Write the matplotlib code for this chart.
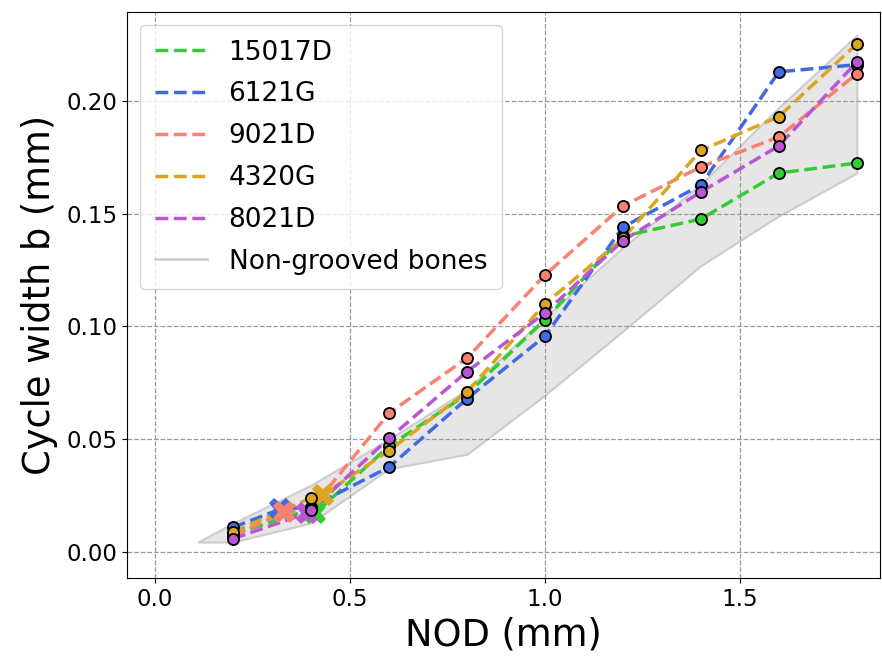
import numpy as np
import matplotlib
matplotlib.use("Agg")
import matplotlib.pyplot as plt

# NOD positions of the circle markers
nod = [0.2, 0.4, 0.6, 0.8, 1.0, 1.2, 1.4, 1.6, 1.8]

labels = ["15017D", "6121G", "9021D", "4320G", "8021D"]
colors = ["limegreen", "royalblue", "salmon", "goldenrod", "mediumorchid"]

b_15017D = [0.008, 0.019, 0.047, 0.070, 0.103, 0.140, 0.1476, 0.168, 0.1724]
b_6121G = [0.011, 0.020, 0.0377, 0.068, 0.0957, 0.144, 0.1627, 0.2128, 0.216]
b_9021D = [0.007, 0.019, 0.0616, 0.086, 0.1228, 0.1534, 0.1707, 0.184, 0.212]
b_4320G = [0.009, 0.024, 0.045, 0.071, 0.110, 0.139, 0.178, 0.193, 0.2252]
b_8021D = [0.006, 0.0186, 0.0505, 0.080, 0.106, 0.138, 0.1596, 0.180, 0.2172]
series = [b_15017D, b_6121G, b_9021D, b_4320G, b_8021D]

# extra point of each specimen (X marker)
x_special = [0.41, 0.32, 0.33, 0.43, 0.39]
y_special = [0.0172, 0.019, 0.0177, 0.0253, 0.0173]

# non-grooved bones band
band_x = [0.11, 0.2, 0.4, 0.6, 0.8, 1.0, 1.2, 1.4, 1.6, 1.8]
band_lo = [0.0045, 0.0045, 0.013, 0.037, 0.0434, 0.0696, 0.098, 0.127, 0.149, 0.168]
band_hi = [0.0045, 0.0128, 0.0297, 0.050, 0.072, 0.104, 0.135, 0.163, 0.197, 0.229]

fig, ax = plt.subplots(figsize=(8.82, 6.57), dpi=100)

ax.fill_between(band_x, band_lo, band_hi, facecolor="#e6e6e6", edgecolor="#cccccc",
                linewidth=1.5, zorder=1)
h_band, = ax.plot([], [], color="#cccccc", linewidth=1.8, label="Non-grooved bones")

handles = []
for lab, col, yv, xs, ys in zip(labels, colors, series, x_special, y_special):
    xx = np.array(nod + [xs])
    yy = np.array(yv + [ys])
    order = np.argsort(xx)
    h, = ax.plot(xx[order], yy[order], linestyle="--", color=col, linewidth=2.5,
                 label=lab, zorder=3)
    handles.append(h)
    ax.plot([xs], [ys], linestyle="none", marker="X", markersize=16,
            color=col, markeredgewidth=0, zorder=4)
    ax.plot(nod, yv, linestyle="none", marker="o", markersize=8,
            markerfacecolor=col, markeredgecolor="black", markeredgewidth=1.3, zorder=5)

ax.legend(handles=handles + [h_band], loc="upper left", fontsize=19,
          labelspacing=0.6, borderpad=0.55)

ax.set_xlim(-0.072, 1.86)
ax.set_ylim(-0.0115, 0.2394)
ax.set_xticks([0.0, 0.5, 1.0, 1.5])
ax.set_yticks([0.0, 0.05, 0.10, 0.15, 0.20])
ax.tick_params(labelsize=16.5)
ax.grid(True, linestyle="--", color="#999999", linewidth=0.9)
ax.set_xlabel("NOD (mm)", fontsize=26.5, labelpad=4)
ax.set_ylabel("Cycle width b (mm)", fontsize=26.5, labelpad=6)

plt.subplots_adjust(left=0.144, right=0.998, top=0.982, bottom=0.12)
plt.savefig("out.png", dpi=100)
